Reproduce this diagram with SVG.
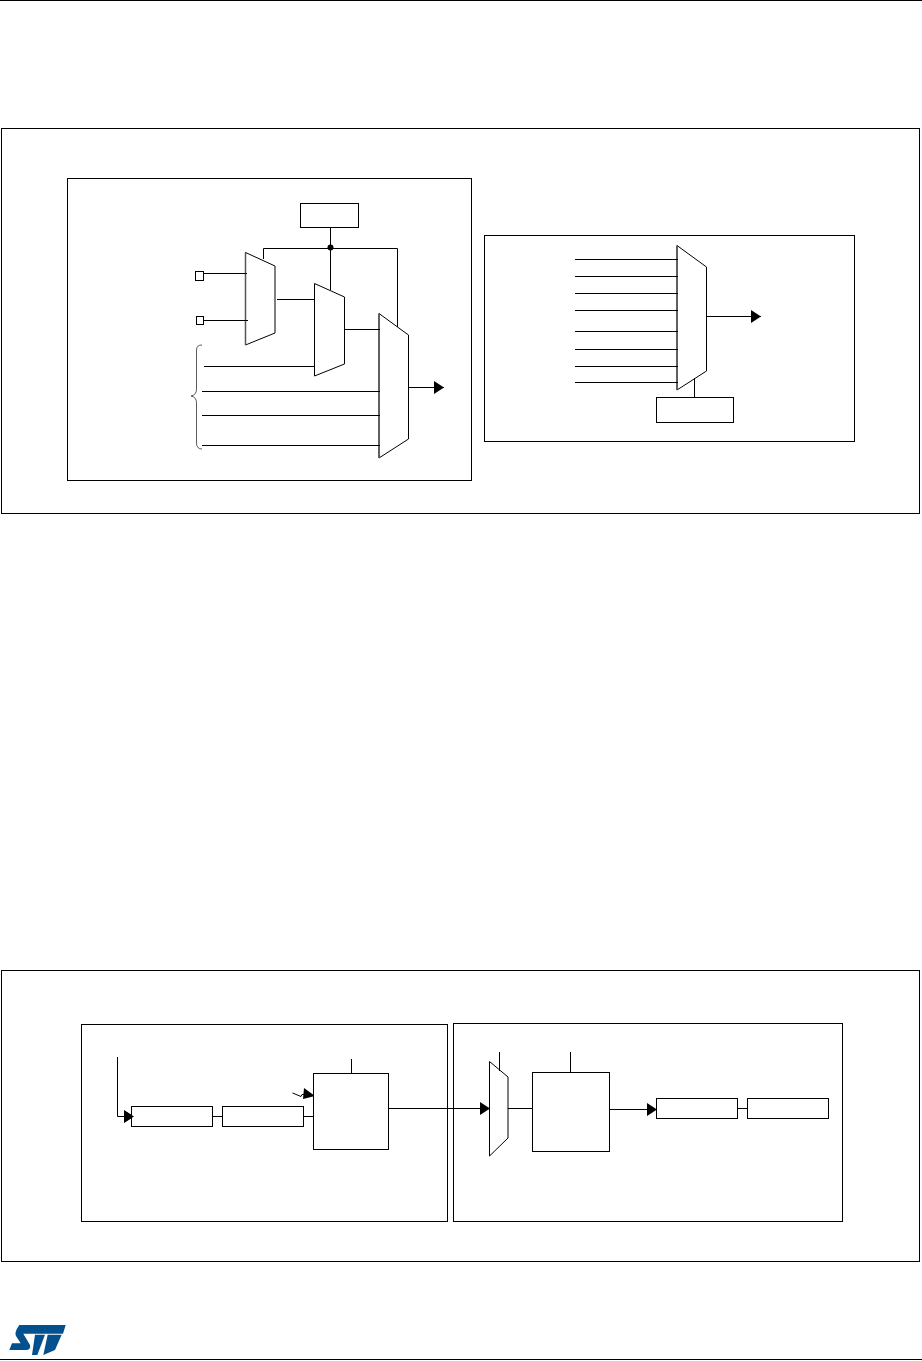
<svg xmlns="http://www.w3.org/2000/svg" width="922" height="1361" viewBox="0 0 922 1361">
<style>
.b{fill:#fff;stroke:#000;stroke-width:1}
.f{fill:none;stroke:#000;stroke-width:1}
.m{fill:#fff;stroke:#000;stroke-width:1}
.e{fill:none;stroke:#555;stroke-width:1.500}
.br{fill:none;stroke:#333;stroke-width:.8}
.l{fill:#03508f}
</style>
<defs>
<marker id="ah" markerUnits="userSpaceOnUse" markerWidth="11" markerHeight="14" refX="10" refY="7" orient="auto"><path d="M0,0.500L10,7L0,13.500Z" fill="#000"/></marker>
</defs>
<rect width="922" height="1361" fill="#fff"/>
<g id="page-rules">
<line class="f" x1="0" y1="0.5" x2="922" y2="0.5"/>
<line class="f" x1="0" y1="1359.5" x2="922" y2="1359.5"/>
</g>
<g id="logo">
<path class="l" d="M19.300,1325H65.700L63,1333.700H23.300L30,1345Q31,1349.300 26.700,1350L9.300,1350L12,1343.300H20.700L16,1336Q14.700,1333.300 16.700,1329.300Z"/>
<path class="l" d="M35,1334.700H45L37.300,1355H32Z"/>
<path class="l" d="M47.700,1334.700H61.700L55,1350L43.300,1355Z"/>
</g>
<g id="figure-a"><rect class="b" x="1.500" y="128.500" width="918" height="385"/></g>
<g id="panel-a1"><rect class="b" x="67.500" y="178.500" width="404" height="302"/></g>
<g id="panel-a2"><rect class="b" x="484.500" y="235.500" width="370" height="206"/></g>
<g id="figure-b"><rect class="b" x="1.500" y="970.500" width="918" height="291"/></g>
<g id="panel-b1"><rect class="b" x="81.500" y="1024.500" width="366" height="197"/></g>
<g id="panel-b2"><rect class="b" x="453.500" y="1023.500" width="389" height="198"/></g>
<g id="mux-shapes">
<path class="m" id="mux1" d="M245.500,252.500L275,266V333L245.500,345Z"/>
<path class="m" id="mux2" d="M314.500,283.500L344.500,297V364L314.500,376Z"/>
<path class="m" id="mux3" d="M379,313.500L408.500,335V439L379,458Z"/>
<path class="m" id="mux4" d="M677,245.500L706.500,267V371L677,390Z"/>
<path class="m" id="b2-mux" d="M489.500,1061.500L508,1077V1138L489.500,1156Z"/>
<path class="e" d="M245.500,252.500V345M379,313.500V458M677,245.500V390"/>
</g>
<g id="connectors">
<path class="f" d="M330.500,227V247"/>
<path class="f" d="M263.500,259V248.500H397.500V327"/>
<path class="f" d="M330.500,247V290"/>
<path class="f" d="M204,273.500H247"/>
<path class="f" d="M204,320.500H248"/>
<path class="f" d="M277,299.500H315"/>
<path class="f" d="M344,329.500H380"/>
<path class="f" d="M204,366.500H315"/>
<path class="f" d="M202,391.500H380"/>
<path class="f" d="M202,415.500H380"/>
<path class="f" d="M202,445.500H380"/>
<path class="f" d="M409,387.500H444" marker-end="url(#ah)"/>
<path class="br" d="M202,345Q196.500,345 196.500,350V389Q196.500,395 191,396Q196.500,397 196.500,403V443Q196.500,449 202,449"/>
<path class="f" d="M575,259.500H678M575,276.500H678M575,293.500H678M575,310.500H678M575,331.500H678M575,349.500H678M575,366.500H678M575,382.500H678"/>
<path class="f" d="M707,316.500H761" marker-end="url(#ah)"/>
<path class="f" d="M694.500,378V397"/>
<path class="f" d="M117.500,1057V1116.500H134" marker-end="url(#ah)"/>
<path class="f" d="M212,1116.500H223"/>
<path class="f" d="M303,1116.500H314"/>
<path class="f" d="M292.500,1093L301,1096.500L302,1094.500H305"/>
<path d="M304,1088L315,1096L303,1099Z" fill="#000"/>
<path class="f" d="M351.500,1059V1073"/>
<path class="f" d="M388,1108.500H490" marker-end="url(#ah)"/>
<path class="f" d="M499.500,1052V1071"/>
<path class="f" d="M508,1108.500H533"/>
<path class="f" d="M570.500,1052V1072"/>
<path class="f" d="M609,1109.500H657" marker-end="url(#ah)"/>
<path class="f" d="M737,1108.500H748"/>
</g>
<g id="sel-a1"><rect class="b" x="300.500" y="203.500" width="58" height="24"/></g>
<g id="junction"><circle cx="330.500" cy="247.500" r="3" fill="#000"/></g>
<g id="pin1"><rect class="b" x="195.500" y="271.500" width="8" height="9"/></g>
<g id="pin2"><rect class="b" x="196.500" y="316.500" width="7" height="8"/></g>
<g id="sel-a2"><rect class="b" x="656.500" y="397.500" width="77" height="25"/></g>
<g id="b1-box1"><rect class="b" x="131.500" y="1106.500" width="81" height="20"/></g>
<g id="b1-box2"><rect class="b" x="222.500" y="1106.500" width="81" height="20"/></g>
<g id="b1-core"><rect class="b" x="313.500" y="1073.500" width="75" height="76"/></g>
<g id="b2-core"><rect class="b" x="532.500" y="1072.500" width="77" height="79"/></g>
<g id="b2-box1"><rect class="b" x="656.500" y="1098.500" width="81" height="20"/></g>
<g id="b2-box2"><rect class="b" x="747.500" y="1098.500" width="81" height="20"/></g>
<g id="arrow-overlay">
<path d="M124,1110.500L134,1116.500L124,1122.500Z" fill="#000"/>
</g>
</svg>
